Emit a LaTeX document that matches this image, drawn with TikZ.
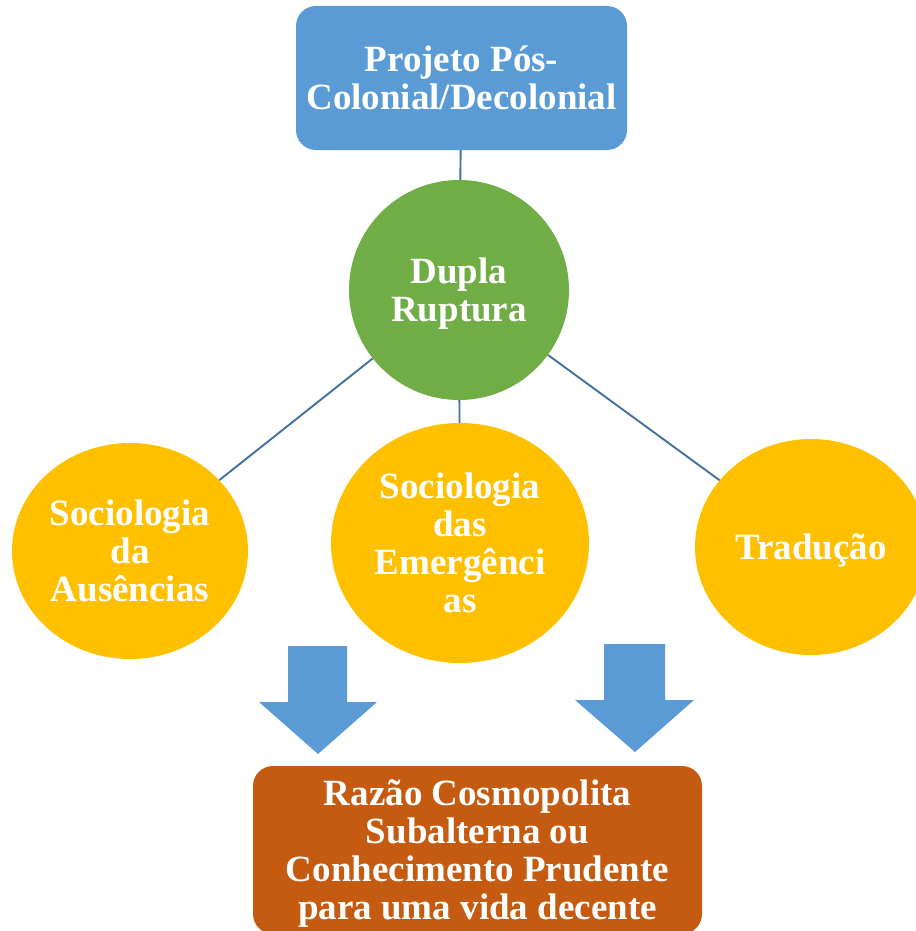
\documentclass[tikz,border=0pt]{standalone}
\usepackage{fontspec}
\setmainfont{Liberation Serif}
\usepackage{tikz}
\usetikzlibrary{positioning,shapes.geometric}
\definecolor{boxblue}{HTML}{5B9BD5}
\definecolor{rupgreen}{HTML}{70AD47}
\definecolor{socyellow}{HTML}{FFC000}
\definecolor{razorange}{HTML}{C55A11}
\definecolor{linkblue}{HTML}{41719C}
\newcommand{\lines}[1]{\raisebox{-4.5pt}[\height][\depth]{\begin{tabular}{@{}c@{}}#1\end{tabular}}}

\begin{document}
\begin{tikzpicture}[
    x=1pt, y=-1pt,
    font=\fontsize{37}{38}\selectfont\bfseries,
    project/.style={
		rectangle,
		rounded corners=20pt,
		fill=boxblue,
		text=white,
		inner sep=0pt,
		text centered
	},
	rupture/.style={
		circle,
		fill=rupgreen,
		text=white,
		inner sep=0pt,
		minimum size=220pt
	},
	sociology/.style={
		ellipse,
		fill=socyellow,
		text=white,
		inner sep=0pt
	},
	link/.style={
		draw=linkblue,
		line width=1.9pt
	},
	downarrow/.style={
		fill=boxblue
	}
  ]
  \useasboundingbox (0,0) rectangle (915,931);
    % We start by placing the blocks

  \node [project, minimum width=331pt, minimum height=144pt] (projeto) at (461.5,78)
 {%
 \lines{
  Projeto Pós-\\
  Colonial/Decolonial}
 };

  \node [rupture] (dupla) at (459,290)
 {%
 \lines{
  Dupla\\
  Ruptura}
 };

  \node [sociology, minimum width=236pt, minimum height=216pt] (ausencias) at (130,551)
 {%
 \lines{
  Sociologia\\
  da\\
  Ausências}
 };

  \node [sociology, minimum width=258pt, minimum height=240pt] (emergencias) at (460,543)
 {%
 \lines{
  Sociologia\\
  das\\
  Emergênci\\
  as}
 };

  \node [sociology, minimum width=232pt, minimum height=216pt] (traducao) at (811,547)
 {\lines{Tradução}};

  \node [project, fill=razorange, minimum width=449pt, minimum height=168pt] (razao) at (477.5,850)
 {%
 \lines{
  Razão Cosmopolita\\
  Subalterna ou\\
  Conhecimento Prudente\\
  para uma vida decente}
 };

 \draw [link] (projeto) -- (dupla);
 \draw [link] (dupla) -- (ausencias);
 \draw [link] (dupla) -- (emergencias);
 \draw [link] (dupla) -- (traducao);

 % block arrows towards the result
 \fill [downarrow] (288,646) -- (347,646) -- (347,702) -- (377,702) -- (318,754) -- (259,702) -- (288,702) -- cycle;
 \fill [downarrow] (604,644) -- (665,644) -- (665,700) -- (694,700) -- (635,752) -- (575,700) -- (604,700) -- cycle;

\end{tikzpicture}
\end{document}
